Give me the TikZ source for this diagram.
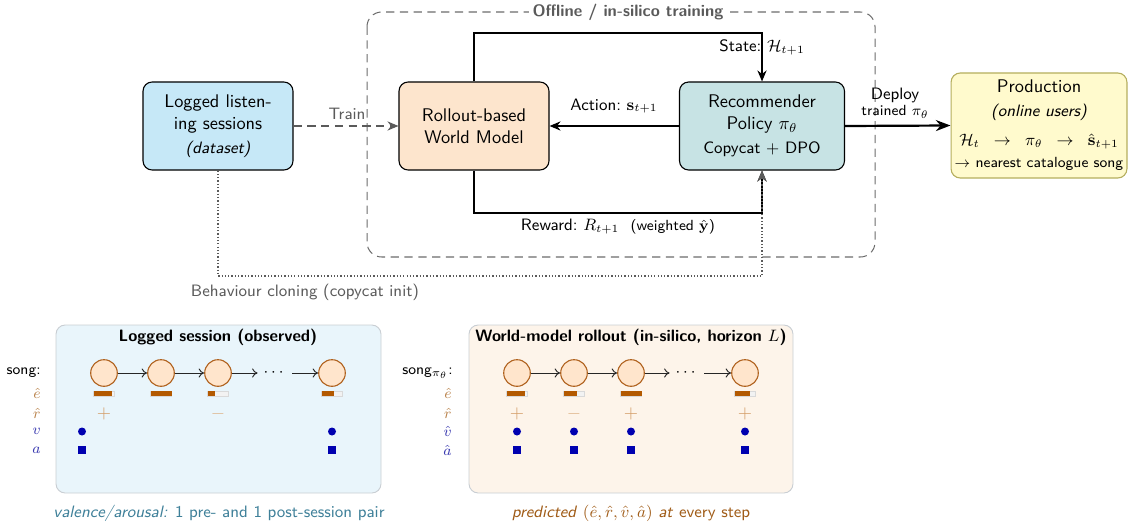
\documentclass[tikz,border=0pt]{standalone}
\usepackage{amsmath,amssymb}
\usetikzlibrary{arrows.meta,calc}
\renewcommand{\familydefault}{\sfdefault}
\definecolor{boxblue}{HTML}{C6E8F7}
\definecolor{boxpeach}{HTML}{FDE5CD}
\definecolor{boxteal}{HTML}{C7E3E4}
\definecolor{boxyellow}{HTML}{FFFACD}
\definecolor{yellowbrd}{HTML}{B5AE5E}
\definecolor{framegray}{HTML}{5A5A5A}
\definecolor{panelblue}{HTML}{E9F5FB}
\definecolor{panelpeach}{HTML}{FDF4EA}
\definecolor{panelbrd}{HTML}{C9CED3}
\definecolor{brownbar}{HTML}{B35900}
\definecolor{circbrd}{HTML}{B0621E}
\definecolor{circfill}{HTML}{FFE5CC}
\definecolor{signbrown}{HTML}{D39C66}
\definecolor{signlight}{HTML}{DEB48A}
\definecolor{labbrown}{HTML}{B88048}
\definecolor{dotblue}{HTML}{0000B0}
\definecolor{labblue}{HTML}{3A3AB0}
\definecolor{capteal}{HTML}{3F8099}
\definecolor{capbrown}{HTML}{A05C18}
\newcommand\pbar[2]{%
  \draw[fill=gray!10,draw=gray!30,line width=0.4pt] ({#1-10.5},391) rectangle ({#1+10.5},396);
  \fill[brownbar] ({#1-10.5},391) rectangle ({#1-10.5+21*#2},396);}
\begin{document}
\begin{tikzpicture}[x=0.545pt,y=-0.545pt,font=\sffamily,
  mainbox/.style={draw,semithick,rounded corners=5pt,align=center,
    minimum width=150*0.545pt,minimum height=88*0.545pt,inner sep=2pt},
  songc/.style={circle,draw=circbrd,fill=circfill,line width=0.6pt,
    minimum size=26.6*0.545pt,inner sep=0pt},
  seqarrow/.style={-{To[length=3pt,width=5pt]},line width=0.5pt,black!85},
  dotsnode/.style={inner sep=0pt,minimum width=34*0.545pt,font=\small},
  rowlab/.style={anchor=east,font=\footnotesize,inner sep=0pt},
  panel/.style={draw=panelbrd,rounded corners=5pt,line width=0.5pt},
  paneltitle/.style={font=\small\bfseries,inner sep=0pt},
  vdot/.style={circle,fill=dotblue,minimum size=8*0.545pt,inner sep=0pt},
  asq/.style={rectangle,fill=dotblue,minimum size=8.5*0.545pt,inner sep=0pt},
  sgn/.style={font=\normalsize,inner sep=0pt},
  elabel/.style={font=\small,inner sep=1pt},
  loopline/.style={thick,-{Stealth[length=6pt,width=5pt]}}
]
\useasboundingbox (0,0) rectangle (1132,527);

% ---------- offline frame
\draw[gray!85!black,dashed,dash pattern=on 4.5pt off 3pt,line width=0.55pt,rounded corners=8pt]
  (367,12) rectangle (875,257);
\node[fill=white,text=framegray,font=\small\bfseries,inner sep=2pt] (frametitle) at (628,12) {Offline / in-silico training};

% ---------- main boxes
\node[mainbox,fill=boxblue] (logged) at (218,126)
  {Logged listen-\\ing sessions\\[1pt]{\small\itshape (dataset)}};
\node[mainbox,fill=boxpeach] (wm) at (474,126) {Rollout-based\\World Model};
\node[mainbox,fill=boxteal,minimum width=165*0.545pt] (pol) at (762,126)
  {Recommender\\Policy $\pi_\theta$\\[1pt]{\small Copycat + DPO}};
\node[draw=yellowbrd,fill=boxyellow,rounded corners=5pt,semithick,align=center,
  minimum width=174*0.545pt,minimum height=105*0.545pt,inner sep=2pt] (prod) at (1039,125.5)
  {Production\\[1pt]{\small\itshape (online users)}\\[4pt]
   {\small $\mathcal{H}_t\;\;\to\;\;\pi_\theta\;\;\to\;\;\hat{\mathbf{s}}_{t+1}$}\\
   {\footnotesize $\to$ nearest catalogue song}};

% ---------- loops
\coordinate (st1) at (474,33);
\coordinate (st2) at (762,33);
\draw[loopline] (wm.north) -- (st1) -- (st2) -- (pol.north);
\node[elabel] (statelab) at (762,47) {State:\ $\mathcal{H}_{t+1}$};

\coordinate (rw1) at (474,213);
\coordinate (rw2) at (762,213);
\draw[loopline] (wm.south) -- (rw1) -- (rw2) -- (pol.south);
\node[elabel] (rewlab) at (618,227) {Reward:\ $R_{t+1}$\ \ {\footnotesize(weighted $\hat{\mathbf{y}}$)}};

\draw[loopline] (pol.west) -- (wm.east);
\node[elabel] (actlab) at (614,106) {Action:\ $\mathbf{s}_{t+1}$};

% ---------- train
\draw[framegray,semithick,dashed,dash pattern=on 4.5pt off 3pt,-{Stealth[length=6pt,width=5pt]}]
  (logged.east) -- (wm.west);
\node[elabel,text=framegray] (trainlab) at (347,114) {Train};

% ---------- behaviour cloning
\coordinate (bc1) at (218,276);
\coordinate (bc2) at (762,276);
\draw[framegray,line width=0.6pt,dash pattern=on 0.7pt off 1.1pt,-{Stealth[length=6pt,width=5pt]}]
  (logged.south) -- (bc1) -- (bc2) -- (pol.south);
\node[elabel,text=framegray] (bclab) at (305,292) {Behaviour cloning (copycat init)};

% ---------- deploy
\draw[very thick,-{Stealth[length=8pt,width=6pt]}] (pol.east) -- (prod.west);
\node[inner sep=0pt,font=\small] (deplab) at (895,95) {Deploy};
\node[inner sep=0pt,font=\footnotesize] (deplab2) at (895,112) {trained $\pi_\theta$};

% ---------- left panel
\draw[panel,fill=panelblue] (56,325) rectangle (381,493);
\node[paneltitle] (lt) at (218,337) {Logged session (observed)};
\node[rowlab] (lsong) at (41,373) {song:};
\node[rowlab,text=labbrown] (le) at (41,393) {$\hat e$};
\node[rowlab,text=labbrown] (lr) at (41,413) {$\hat r$};
\node[rowlab,text=labblue] (lv) at (41,431) {$v$};
\node[rowlab,text=labblue] (la) at (41,450) {$a$};

\node[songc] (l1) at (104,373) {};
\node[songc] (l2) at (161,373) {};
\node[songc] (l3) at (218,373) {};
\node[dotsnode] (ld) at (275,373) {$\cdots$};
\node[songc] (l4) at (332,373) {};
\draw[seqarrow] (l1) -- (l2);
\draw[seqarrow] (l2) -- (l3);
\draw[seqarrow] (l3) -- (ld);
\draw[seqarrow] (ld) -- (l4);
\pbar{104}{0.9}
\pbar{161}{1}
\pbar{218}{0.35}
\pbar{332}{0.59}
\node[sgn,text=signbrown] (lp1) at (104,414) {$+$};
\node[sgn,text=signlight] (lm3) at (218,414) {$-$};
\node[vdot] (lv0) at (82,431.5) {};
\node[vdot] (lv4) at (332,431.5) {};
\node[asq] (la0) at (82,450) {};
\node[asq] (la4) at (332,450) {};
\node[font=\small,text=capteal,inner sep=0pt] (lcap) at (219,513)
  {\textit{valence/arousal:} 1 pre- and 1 post-session pair};

% ---------- right panel
\draw[panel,fill=panelpeach] (469,325) rectangle (793,493);
\node[paneltitle] (rt) at (631,337) {World-model rollout (in-silico, horizon $L$)};
\node[rowlab] (rsong) at (453,373) {song$_{\pi_\theta}$:};
\node[rowlab,text=labbrown] (re) at (452,393) {$\hat e$};
\node[rowlab,text=labbrown] (rr) at (452,413) {$\hat r$};
\node[rowlab,text=labblue] (rv) at (452,431) {$\hat v$};
\node[rowlab,text=labblue] (ra) at (452,450) {$\hat a$};

\node[songc] (r1) at (517,373) {};
\node[songc] (r2) at (574,373) {};
\node[songc] (r3) at (631,373) {};
\node[dotsnode] (rd) at (687,373) {$\cdots$};
\node[songc] (r4) at (745,373) {};
\draw[seqarrow] (r1) -- (r2);
\draw[seqarrow] (r2) -- (r3);
\draw[seqarrow] (r3) -- (rd);
\draw[seqarrow] (rd) -- (r4);
\pbar{517}{0.88}
\pbar{574}{0.66}
\pbar{631}{1}
\pbar{745}{0.75}
\node[sgn,text=signbrown] (rp1) at (517,414) {$+$};
\node[sgn,text=signlight] (rm2) at (574,414) {$-$};
\node[sgn,text=signbrown] (rp3) at (631,414) {$+$};
\node[sgn,text=signbrown] (rp4) at (745,414) {$+$};
\node[vdot] (rv1) at (517,431.5) {};
\node[vdot] (rv2) at (574,431.5) {};
\node[vdot] (rv3) at (631,431.5) {};
\node[vdot] (rv4) at (745,431.5) {};
\node[asq] (ra1) at (517,450) {};
\node[asq] (ra2) at (574,450) {};
\node[asq] (ra3) at (631,450) {};
\node[asq] (ra4) at (745,450) {};
\node[font=\small,text=capbrown,inner sep=0pt] (rcap) at (631,513)
  {\textit{predicted} $(\hat e,\hat r,\hat v,\hat a)$ \textit{at} every step};
\end{tikzpicture}
\end{document}
